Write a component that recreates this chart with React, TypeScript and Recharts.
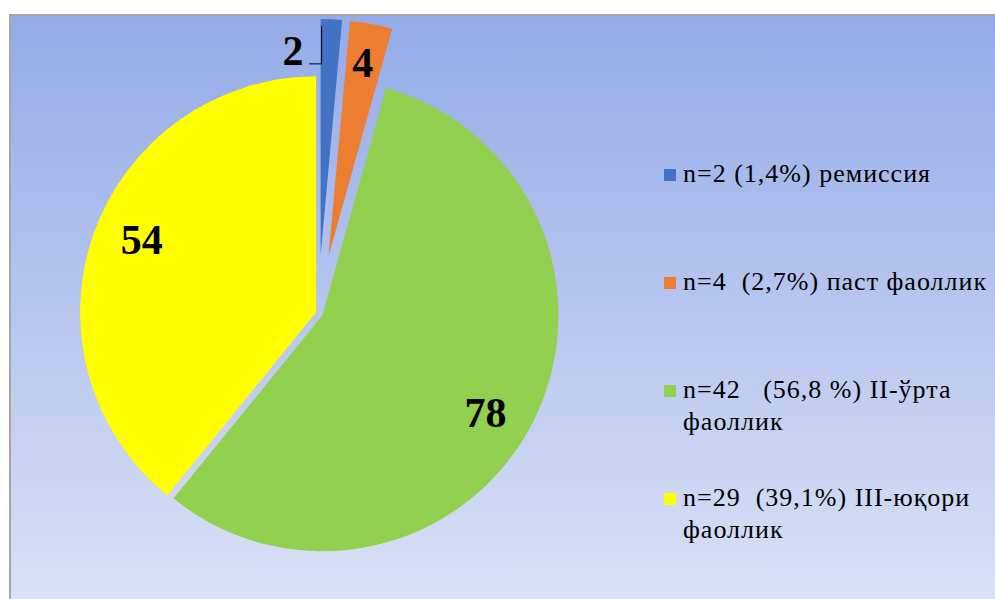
import React from 'react'
import { PieChart, Pie, Cell } from 'recharts'

const categories = [
  'n=2 (1,4%) ремиссия',
  'n=4  (2,7%) паст фаоллик',
  'n=42   (56,8 %) II-ўрта фаоллик',
  'n=29  (39,1%) III-юқори фаоллик',
]
const values = [2, 4, 78, 54]
const colors = ['#4472C4', '#ED7D31', '#92D050', '#FFFF00']

const data = categories.map((name, i) => ({ name, value: values[i] }))

const W = 995
const H = 599
const CX = 318
const CY = 313
const R = 236
const FONT = '"Liberation Serif", "Times New Roman", serif'

// how far each slice is pulled out of the pie
const explode = [58, 58, 5, 2]
// label spot: radius as a fraction of R, shift from the mid angle in degrees
const labelPlace = [
  { r: 0.873, da: 10.3, leader: true },
  { r: 0.83, da: 0.4, leader: false },
  { r: 0.805, da: -3.5, leader: false },
  { r: 0.8, da: -3, leader: false },
]

const RAD = Math.PI / 180
const total = values.reduce((a, b) => a + b, 0)
const midAngles = values.map((v, i) => {
  const before = values.slice(0, i).reduce((a, b) => a + b, 0)
  return 90 - ((before + v / 2) / total) * 360
})

const makeLabel = (k: number) => (p: any) => {
  if (p.index !== k) return null
  const { cx, cy, midAngle, outerRadius, value } = p
  const place = labelPlace[k]
  const a = (midAngle + place.da) * RAD
  const x = cx + outerRadius * place.r * Math.cos(a)
  const y = cy - outerRadius * place.r * Math.sin(a)
  return (
    <g>
      {place.leader && (
        <path
          d={`M${x + 16},${y + 13} H${cx + 1} V${cy - outerRadius * 0.97}`}
          stroke="#000"
          strokeWidth={1}
          fill="none"
        />
      )}
      <text
        x={x}
        y={y}
        textAnchor="middle"
        dominantBaseline="central"
        fontFamily={FONT}
        fontWeight="bold"
        fontSize={42}
        fill="#000"
      >
        {value}
      </text>
    </g>
  )
}

const LegendBox = () => (
  <div
    style={{
      position: 'absolute',
      left: 664,
      top: 158,
      width: 331,
      fontFamily: FONT,
      fontSize: 26,
      letterSpacing: 1,
      color: '#000',
      lineHeight: '32px',
    }}
  >
    {categories.map((c, i) => (
      <div key={c} style={{ height: 108, display: 'flex' }}>
        <span
          style={{
            width: 12,
            height: 12,
            background: colors[i],
            marginTop: 11,
            marginRight: 7,
            flex: 'none',
          }}
        />
        <span style={{ whiteSpace: 'pre-wrap', width: 312 }}>{c}</span>
      </div>
    ))}
  </div>
)

// yellow and green drawn first, the small pulled-out slices on top
const drawOrder = [3, 2, 1, 0]

export default function App() {
  return (
    <div style={{ position: 'absolute', left: 0, top: 0, width: W, height: H, background: '#fff', overflow: 'hidden' }}>
      <div
        style={{
          position: 'absolute',
          left: 9,
          top: 14,
          width: W,
          height: H,
          borderLeft: '2px solid #A6A6A6',
          borderTop: '2px solid #A6A6A6',
          background: 'linear-gradient(180deg, #94ABE8 0%, #DCE2F6 100%)',
        }}
      />
      <div style={{ position: 'absolute', left: 0, top: 0 }}>
        <PieChart width={W} height={H} margin={{ top: 0, right: 0, bottom: 0, left: 0 }}>
          {drawOrder.map((k) => (
            <Pie
              key={k}
              data={data}
              dataKey="value"
              nameKey="name"
              cx={CX + explode[k] * Math.cos(midAngles[k] * RAD)}
              cy={CY - explode[k] * Math.sin(midAngles[k] * RAD)}
              outerRadius={R}
              startAngle={90}
              endAngle={-270}
              stroke="none"
              label={makeLabel(k)}
              labelLine={false}
              isAnimationActive={false}
            >
              {data.map((d, i) => (
                <Cell key={d.name} fill={i === k ? colors[i] : 'transparent'} />
              ))}
            </Pie>
          ))}
        </PieChart>
      </div>
      <LegendBox />
    </div>
  )
}
